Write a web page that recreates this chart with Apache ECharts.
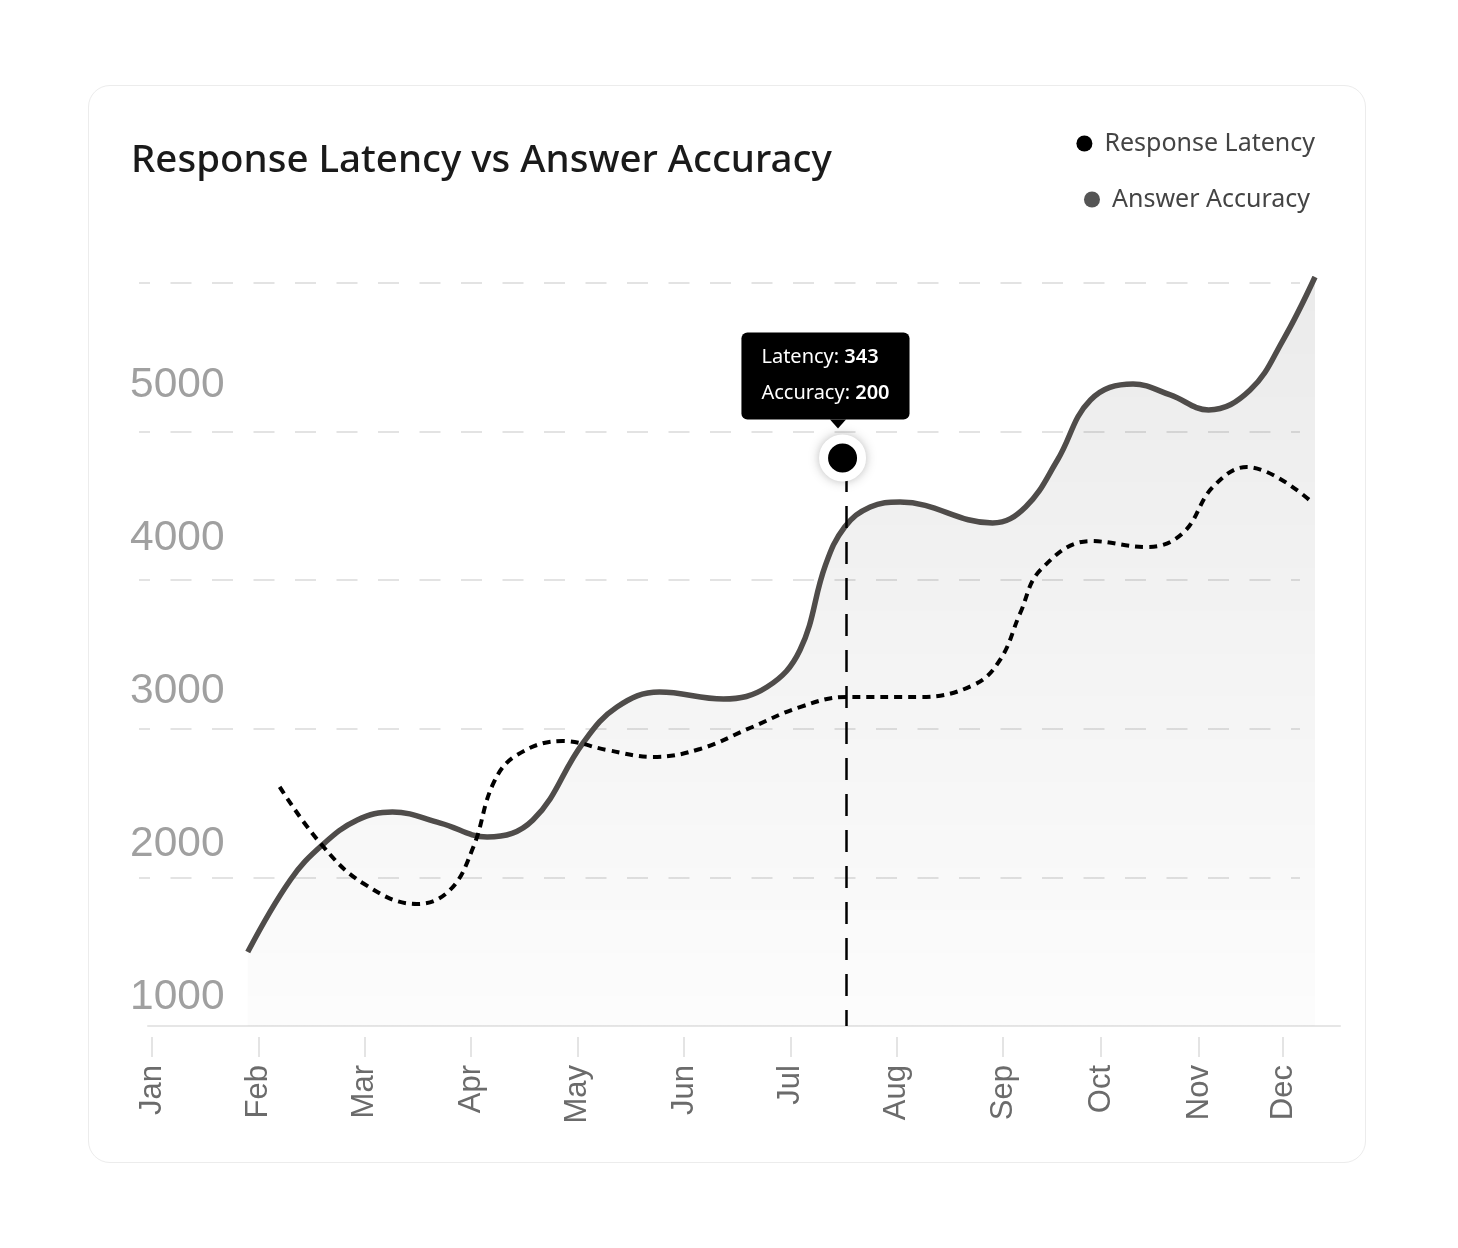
<!DOCTYPE html>
<html>
<head>
<meta charset="utf-8">
<script src="https://cdn.jsdelivr.net/npm/echarts@6/dist/echarts.min.js"></script>
<style>
  html, body { margin: 0; padding: 0; background: #fff; }
  #card {
    position: absolute; left: 88px; top: 85px; width: 1276px; height: 1076px;
    border: 1.5px solid #ececec; border-radius: 22px; background: #fff;
  }
  #chart { position: absolute; left: 0; top: 0; width: 1458px; height: 1248px; }
</style>
</head>
<body>
<div id="card"></div>
<div id="chart"></div>
<script>
// month ticks (x in month units, Jan = 0)
var months = ['Jan', 'Feb', 'Mar', 'Apr', 'May', 'Jun', 'Jul', 'Aug', 'Sep', 'Oct', 'Nov', 'Dec']
var monthTicks = [0, 1, 2, 3, 4, 5, 6, 7, 8, 8.92, 9.84, 10.63]
var yLabels = [1000, 2000, 3000, 4000, 5000]

// Response Latency (solid line)
var latencyX = [0.90, 1.30, 1.60, 1.93, 2.26, 2.71, 3.15, 3.58, 4.05, 4.37, 4.77, 5.37, 5.78, 6.09, 6.33, 6.51, 6.75, 7.03, 7.90, 8.21, 8.51, 8.82, 9.22, 9.57, 9.93, 10.32, 10.63, 10.93]
var latencyY = [1294, 1765, 1993, 2157, 2209, 2137, 2046, 2157, 2660, 2895, 2993, 2948, 3026, 3268, 3824, 4072, 4203, 4235, 4098, 4203, 4510, 4902, 5007, 4935, 4837, 4967, 5294, 5706]

// Answer Accuracy (dotted line)
var accuracyX = [1.20, 1.58, 1.98, 2.49, 2.80, 3.02, 3.21, 3.43, 3.86, 4.28, 4.71, 5.15, 5.62, 6.09, 6.53, 7.22, 7.72, 7.97, 8.16, 8.35, 8.82, 9.35, 9.69, 9.97, 10.29, 10.91]
var accuracyY = [2373, 2007, 1745, 1608, 1699, 1980, 2399, 2582, 2673, 2614, 2569, 2621, 2758, 2895, 2961, 2961, 3039, 3203, 3510, 3791, 3980, 3941, 4033, 4333, 4464, 4229]

// highlighted point
var focusX = 6.49
var focusY = 4523
var tipLatency = 343
var tipAccuracy = 200

function pairs(xs, ys) {
  return xs.map(function (x, i) { return [x, ys[i]] })
}

var chart = echarts.init(document.getElementById('chart'))

chart.setOption({
  animation: false,
  title: {
    text: 'Response Latency vs Answer Accuracy',
    left: 126,
    top: 137,
    textStyle: { fontFamily: 'Noto Sans', fontSize: 38.5, fontWeight: 500, color: '#1a1a1a' }
  },
  legend: [
    {
      data: [{ name: 'Response Latency', itemStyle: { color: '#000' } }],
      right: 138, top: 126, icon: 'circle', itemWidth: 30, itemHeight: 16,
      itemStyle: { borderWidth: 0 },
      textStyle: { fontFamily: 'Noto Sans', fontSize: 25, color: '#444' }
    },
    {
      data: [{ name: 'Answer Accuracy', itemStyle: { color: '#555' } }],
      right: 143, top: 182, icon: 'circle', itemWidth: 30, itemHeight: 16,
      itemStyle: { borderWidth: 0 },
      textStyle: { fontFamily: 'Noto Sans', fontSize: 25, color: '#444' }
    }
  ],
  grid: [
    { left: 139, right: 138, top: 270, bottom: 222 },   // data
    { left: 148, right: 118, top: 1025, height: 1 },    // x axis line
    { left: 139, right: 158, top: 270, bottom: 222 }    // dashed grid lines
  ],
  xAxis: [
    {
      type: 'value', gridIndex: 0,
      min: -0.122, max: 10.977,
      offset: 11,
      axisLine: { show: false },
      splitLine: { show: false },
      axisTick: { show: true, length: 20, customValues: monthTicks, lineStyle: { color: '#dcdcdc', width: 1.5 } },
      axisLabel: {
        customValues: monthTicks,
        rotate: 90, margin: 28,
        fontFamily: 'Liberation Sans', fontSize: 31, color: '#6b6b6b',
        formatter: function (v) {
          var best = 0
          monthTicks.forEach(function (t, i) { if (Math.abs(t - v) < Math.abs(monthTicks[best] - v)) best = i })
          return months[best]
        }
      }
    },
    {
      type: 'value', gridIndex: 1, min: 0, max: 1,
      axisLine: { show: true, lineStyle: { color: '#e6e6e6', width: 2 } },
      axisTick: { show: false }, axisLabel: { show: false }, splitLine: { show: false }
    },
    {
      type: 'value', gridIndex: 2, min: 0, max: 1, show: false
    }
  ],
  yAxis: [
    {
      type: 'value', gridIndex: 2, position: 'left',
      min: 0, max: 5.0875, interval: 1,
      axisLine: { show: false }, axisTick: { show: false }, axisLabel: { show: false },
      splitLine: { show: true, showMinLine: false, showMaxLine: false, lineStyle: { color: '#e3e3e3', width: 2, type: [21, 20.5], dashOffset: 10 } }
    },
    {
      type: 'value', gridIndex: 0, position: 'left',
      min: 810.5, max: 5751.6, offset: 9,
      axisLine: { show: false }, axisTick: { show: false }, splitLine: { show: false },
      axisLabel: {
        inside: true, margin: 0, customValues: yLabels,
        padding: [5, 0, 0, 0],
        fontFamily: 'Liberation Sans', fontSize: 42.5, color: '#a0a0a0',
        formatter: function (v) { return String(Math.round(v)) }
      }
    },
    {
      type: 'value', gridIndex: 1, show: false
    }
  ],
  series: [
    {
      name: 'Response Latency',
      type: 'line',
      xAxisIndex: 0, yAxisIndex: 1,
      data: pairs(latencyX, latencyY),
      smooth: 0.4,
      clip: false,
      showSymbol: false,
      color: '#000',
      lineStyle: { color: '#4f4c4a', width: 5.5 },
      areaStyle: {
        color: new echarts.graphic.LinearGradient(0, 0, 0, 1, [
          { offset: 0, color: 'rgba(0,0,0,0.115)' },
          { offset: 1, color: 'rgba(0,0,0,0.015)' }
        ])
      },
      emphasis: { disabled: true },
      markLine: {
        silent: true,
        symbol: 'none',
        label: { show: false },
        lineStyle: { color: '#000', width: 2.5, type: [22, 14] },
        data: [[{ coord: [6.523, 4444] }, { coord: [6.523, 810.5] }]]
      },
      markPoint: {
        silent: true,
        data: [
          {
            coord: [focusX, focusY],
            symbol: 'circle', symbolSize: 38,
            itemStyle: { color: '#000', borderColor: '#fff', borderWidth: 9, shadowBlur: 12, shadowColor: 'rgba(0,0,0,0.22)' },
            label: { show: false }
          },
          {
            coord: [6.447, 4745],
            symbol: 'triangle', symbolRotate: 180, symbolSize: [16, 9],
            itemStyle: { color: '#000' },
            label: {
              show: true, position: 'top', distance: 0, offset: [-12.5, 0],
              backgroundColor: '#000', borderRadius: 6,
              padding: [7, 20, 8, 20],
              formatter: '{a|Latency: }{b|' + tipLatency + '}\n{a|Accuracy: }{b|' + tipAccuracy + '}',
              rich: {
                a: { fontFamily: 'Noto Sans', fontSize: 20, color: '#fff', lineHeight: 36, align: 'left' },
                b: { fontFamily: 'Noto Sans', fontSize: 20, fontWeight: 600, color: '#fff', lineHeight: 36, align: 'left' }
              }
            }
          }
        ]
      }
    },
    {
      name: 'Answer Accuracy',
      type: 'line',
      xAxisIndex: 0, yAxisIndex: 1,
      data: pairs(accuracyX, accuracyY),
      smooth: 0.4,
      clip: false,
      showSymbol: false,
      color: '#555',
      lineStyle: { color: '#000', width: 4, type: [8, 6] },
      emphasis: { disabled: true }
    }
  ]
})
</script>
</body>
</html>
